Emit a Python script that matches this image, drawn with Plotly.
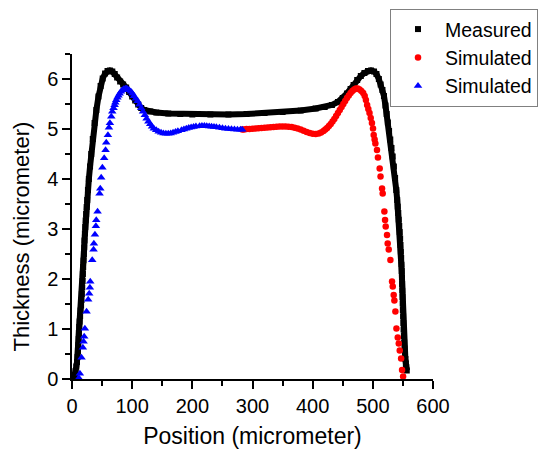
import plotly.graph_objects as go

# Measured thickness profile (black squares)
meas_x = [3.5, 4.7, 6.0, 7.2, 8.3, 9.2, 9.9, 10.5, 11.0, 11.4, 12.0, 12.7, 13.5, 14.3, 15.1, 15.8,
          16.4, 17.0, 17.6, 18.1, 18.6, 19.2, 19.8, 20.3, 20.8, 21.4, 22.0, 22.7, 23.5, 24.4, 25.3,
          26.5, 28.0, 30.0, 32.0, 34.5, 37.5, 40.5, 44.0, 47.5, 51.0, 55.0, 59.0, 63.0, 67.0, 71.0,
          75.0, 80.0, 85.0, 90.0, 95.0, 100.0, 105.0, 110.0, 115.0, 120.0, 130.0, 140.0, 160.0,
          180.0, 200.0, 230.0, 260.0, 290.0, 320.0, 350.0, 380.0, 405.0, 420.0, 432.0, 442.0,
          450.0, 457.0, 463.0, 468.0, 474.0, 480.0, 486.0, 492.0, 497.0, 502.0, 506.0, 510.0,
          513.0, 516.0, 518.5, 521.0, 523.0, 525.0, 527.0, 529.0, 531.0, 533.0, 535.0, 537.0,
          539.0, 540.5, 541.4, 542.3, 543.1, 543.9, 544.7, 545.4, 546.0, 546.6, 547.1, 547.6,
          548.0, 548.4, 548.7, 549.0, 549.3, 549.6, 549.9, 550.3, 550.7, 551.1, 551.6, 552.1,
          552.7, 553.4, 554.1, 554.9, 555.6, 556.4]
meas_y = [0.03, 0.08, 0.16, 0.25, 0.34, 0.44, 0.56, 0.68, 0.80, 0.92, 1.04, 1.15, 1.26, 1.37, 1.47, 1.58,
          1.70, 1.83, 1.96, 2.10, 2.24, 2.37, 2.50, 2.63, 2.77, 2.91, 3.04, 3.17, 3.30, 3.44, 3.58,
          3.78, 4.00, 4.25, 4.50, 4.80, 5.12, 5.38, 5.65, 5.86, 6.01, 6.11, 6.16, 6.17, 6.15, 6.10,
          6.03, 5.95, 5.89, 5.83, 5.74, 5.65, 5.57, 5.49, 5.42, 5.38, 5.35, 5.33, 5.31,
          5.30, 5.29, 5.29, 5.29, 5.30, 5.32, 5.34, 5.37, 5.41, 5.44, 5.48, 5.54,
          5.62, 5.71, 5.80, 5.88, 5.98, 6.06, 6.12, 6.16, 6.17, 6.15, 6.10, 6.00,
          5.89, 5.78, 5.66, 5.47, 5.30, 5.13, 4.96, 4.79, 4.62, 4.45, 4.25, 4.02,
          3.78, 3.58, 3.45, 3.32, 3.19, 3.06, 2.94, 2.81, 2.68, 2.55, 2.42, 2.29,
          2.16, 2.03, 1.90, 1.77, 1.64, 1.51, 1.38, 1.25, 1.12, 0.99, 0.86, 0.73,
          0.61, 0.50, 0.40, 0.31, 0.24, 0.17]

# Simulated, right half (red circles)
red_x = [283, 286, 290, 295, 300, 305, 310, 315, 320, 325, 330, 335, 340, 345, 350, 355, 360, 365,
         370, 375, 380, 385, 390, 395, 400, 405, 410, 414, 418, 421, 424, 427, 430, 433, 436, 439,
         442, 445, 448, 451, 454, 457, 460, 463, 466, 469, 472, 475, 478, 481, 484, 486.5, 488.5,
         490.5, 492.5, 494.5, 496.5, 498.5, 500.3, 501.4, 503.0, 504.2, 506.9, 508.5, 511.4,
         512.8, 515.3, 516.4, 519.2, 520.3, 521.4, 523.6, 524.7, 526.4, 529.2, 531.9, 533.1,
         534.7, 535.8, 537.5, 539.2, 541.4, 543.1, 544.7, 547.0, 548.6, 550.3]
red_y = [4.99, 4.99, 5.00, 5.00, 5.005, 5.01, 5.015, 5.02, 5.025, 5.03, 5.035, 5.04, 5.045, 5.05,
         5.05, 5.05, 5.045, 5.04, 5.025, 5.01, 4.99, 4.965, 4.94, 4.92, 4.905, 4.90, 4.91, 4.93,
         4.96, 4.99, 5.02, 5.06, 5.10, 5.15, 5.20, 5.26, 5.32, 5.38, 5.44, 5.50, 5.56, 5.62, 5.67,
         5.72, 5.76, 5.79, 5.81, 5.81, 5.79, 5.76, 5.72, 5.66, 5.58, 5.48, 5.40, 5.32, 5.22,
         5.12, 5.01, 4.88, 4.79, 4.71, 4.58, 4.43, 4.21, 4.05, 3.81, 3.71, 3.35, 3.18, 3.05,
         2.88, 2.71, 2.59, 2.38, 1.95, 1.85, 1.68, 1.57, 1.35, 1.01, 0.83, 0.71, 0.57, 0.41,
         0.18, 0.05]

# Simulated, left half (blue triangles)
blue_x = [11.4, 13.1, 15.8, 18.1, 19.2, 20.3, 21.4, 24.2, 26.9, 28.6, 29.7, 30.3, 33.6, 35.8, 36.4,
          38.1, 39.7, 40.3, 42.5, 45.8, 47.0, 48.5, 50.5, 53.5, 55.8, 56.9, 59.7, 61.4, 63.0, 65.3,
          66.9, 69.0, 70.8, 72.0, 73.6, 75.5, 77.3, 79.2, 81.5, 83.5, 86.0, 88.5, 90.3, 92.5, 95.0,
          98.0, 100.5, 103.0, 106.0, 109.0, 112.0, 115.0, 118.0, 121.0, 124.0, 127.0, 130.0, 133.0,
          136.0, 140.0, 144.0, 148.0, 152.0, 156.0, 160.0, 164.0, 168.0, 172.0, 176.0, 182.0,
          186.0, 190.0, 194.0, 198.0, 202.0, 206.0, 212.0, 216.0, 220.0, 224.0, 228.0, 232.0,
          236.0, 240.0, 245.0, 250.0, 255.0, 260.0, 265.0, 270.0, 275.0, 280.0, 283.0]
blue_y = [0.02, 0.11, 0.43, 0.63, 0.75, 0.85, 1.01, 1.35, 1.59, 1.71, 1.83, 1.95, 2.38, 2.59, 2.71,
          2.89, 3.06, 3.18, 3.35, 3.71, 3.81, 4.03, 4.23, 4.42, 4.58, 4.73, 4.88, 5.03, 5.12, 5.25,
          5.35, 5.42, 5.48, 5.53, 5.58, 5.63, 5.67, 5.71, 5.75, 5.78, 5.80, 5.81, 5.81, 5.80, 5.78,
          5.75, 5.71, 5.66, 5.61, 5.56, 5.49, 5.42, 5.35, 5.28, 5.21, 5.15, 5.10, 5.05,
          5.01, 4.98, 4.95, 4.93, 4.915, 4.91, 4.91, 4.915, 4.93, 4.945, 4.96, 4.98,
          4.995, 5.01, 5.025, 5.035, 5.045, 5.055, 5.06, 5.065, 5.065, 5.06, 5.055, 5.05,
          5.045, 5.04, 5.03, 5.02, 5.01, 5.005, 5.0, 4.995, 4.99, 4.99, 4.99]

FONT = "Liberation Sans, Arial, sans-serif"

fig = go.Figure()

# thick connecting line for the dense measured curve
fig.add_trace(go.Scatter(x=meas_x, y=meas_y, mode="lines", line=dict(color="black", width=6),
                         showlegend=False, hoverinfo="skip"))
fig.add_trace(go.Scatter(x=meas_x, y=meas_y, mode="markers", name="Measured",
                         marker=dict(symbol="square", size=6, color="black")))
fig.add_trace(go.Scatter(x=red_x, y=red_y, mode="markers", name="Simulated",
                         marker=dict(symbol="circle", size=6.5, color="#ff0000")))
fig.add_trace(go.Scatter(x=blue_x, y=blue_y, mode="markers", name="Simulated",
                         marker=dict(symbol="triangle-up", size=7.5, color="#0000ff")))

axis_common = dict(
    showline=True, linecolor="black", linewidth=1.5,
    ticks="outside", ticklen=8, tickwidth=1.5, tickcolor="black",
    showgrid=False, zeroline=False,
    tickfont=dict(family=FONT, size=20, color="black"),
)

fig.update_xaxes(range=[0, 600], dtick=100, tick0=0,
                 minor=dict(ticks="outside", dtick=50, ticklen=5, tickwidth=1.5, tickcolor="black"),
                 title=dict(text="Position (micrometer)", font=dict(family=FONT, size=23, color="black"),
                            standoff=12),
                 **axis_common)
fig.update_yaxes(range=[0, 6.5], dtick=1, tick0=0,
                 minor=dict(ticks="outside", dtick=0.5, ticklen=5, tickwidth=1.5, tickcolor="black"),
                 **axis_common)

fig.add_annotation(text="Thickness (micrometer)", xref="paper", yref="paper",
                   x=-0.14, y=0.44, xanchor="center", yanchor="middle", textangle=-90,
                   showarrow=False, font=dict(family=FONT, size=22, color="black"))

# the page body adds an 8px offset, so the figure is 8px smaller on each side
fig.update_layout(
    width=540, height=448,
    margin=dict(l=64, r=115, t=46, b=77, autoexpand=False),
    plot_bgcolor="white", paper_bgcolor="white",
    legend=dict(xref="container", yref="container", x=0.7074, y=0.998,
                xanchor="left", yanchor="top",
                bordercolor="#808080", borderwidth=1, bgcolor="white",
                font=dict(family=FONT, size=19.5, color="black"),
                itemwidth=44, tracegroupgap=0),
)

fig.write_html("out.html")
